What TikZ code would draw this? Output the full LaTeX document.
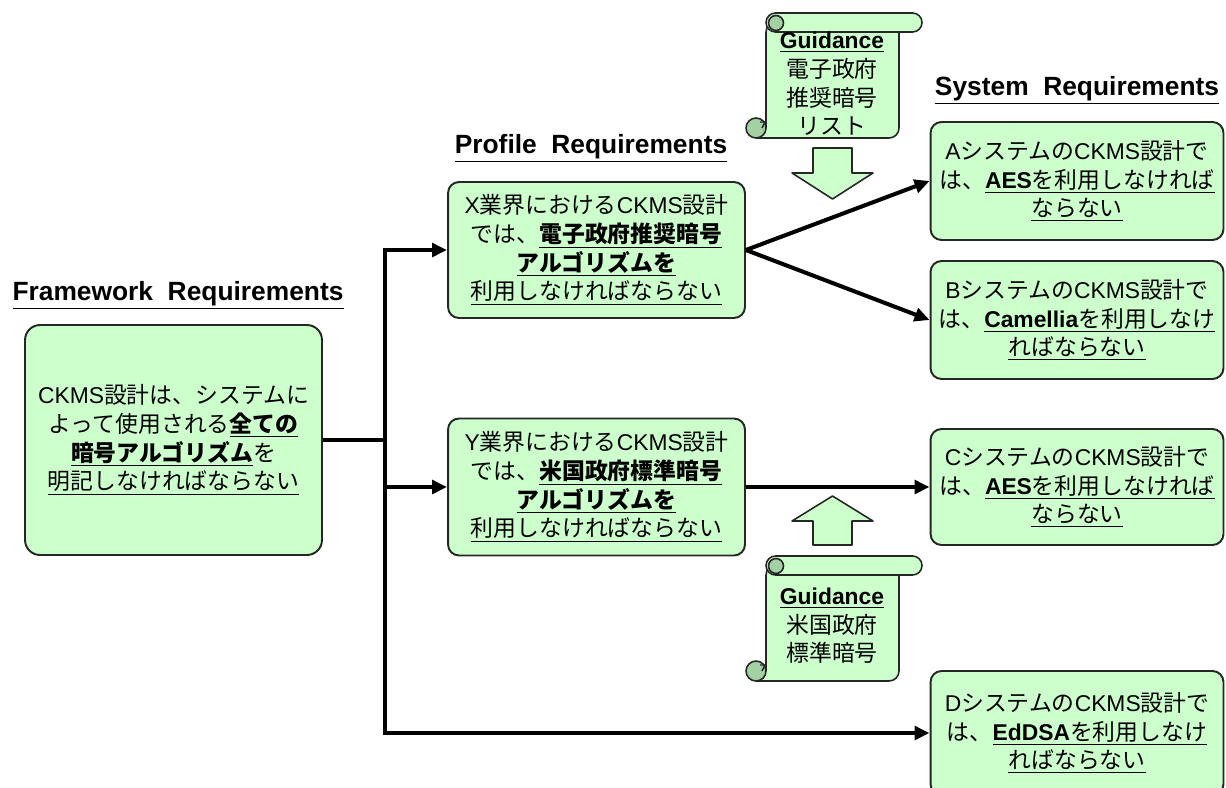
\documentclass[tikz,border=0pt]{standalone}
\usepackage{fontspec}
\setmainfont{Liberation Sans}
\newfontfamily\cjk{Noto Sans CJK JP}
\newfontfamily\headfont{Liberation Sans}
% switch to the CJK family on Japanese characters
\newXeTeXintercharclass\jpclass
\newcount\jpcode
\newcommand\setjprange[2]{%
  \jpcode=#1
  \loop \XeTeXcharclass\jpcode=\jpclass \advance\jpcode by 1 \ifnum\jpcode<#2 \repeat}
\setjprange{"3000}{"3100}
\setjprange{"4E00}{"A000}
\setjprange{"FF00}{"FFF0}
\XeTeXinterchartokenstate=1
\XeTeXinterchartoks 0 \jpclass = {\cjk}
\XeTeXinterchartoks 4095 \jpclass = {\cjk}
\XeTeXinterchartoks \jpclass 0 = {\rmfamily}
\XeTeXinterchartoks 4095 0 = {\rmfamily}
\usepackage{tikz}
\usetikzlibrary{arrows.meta, positioning, calc}
\definecolor{boxGreen}{HTML}{CCFFCC}
\definecolor{curlGreen}{HTML}{A3D1A3}
\definecolor{edgeGray}{gray}{0.15}

\begin{document}
\begin{tikzpicture}[x=0.02cm, y=-0.02cm,
    reqbox/.style={draw=edgeGray, line width=1.1pt, fill=boxGreen, rounded corners=0.22cm,
        align=center, inner sep=0pt, minimum width=5.86cm, font=\fontsize{13}{16.3}\selectfont},
    guidetext/.style={align=center, inner sep=0pt, font=\fontsize{13}{16.3}\selectfont},
    heading/.style={font=\headfont\bfseries\fontsize{15}{18}\selectfont},
    flow/.style={line width=2.3pt, -{Triangle[length=0.3cm, width=0.27cm]}},
    paper/.style={draw=edgeGray, line width=0.9pt, fill=boxGreen, line join=round},
    ]
    \useasboundingbox (0,0) rectangle (1226,787);

    % headings
    \node[heading] (fwHead) at (178,295) {\underline{Framework\ \ Requirements}};
    \node[heading] (prHead) at (591,148) {\underline{Profile\ \ Requirements}};
    \node[heading] (syHead) at (1077,90) {\underline{System\ \ Requirements}};

    % requirement boxes
    \node[reqbox, minimum width=5.94cm, minimum height=4.6cm, rounded corners=0.3cm] (fw) at (173.5,440)
        {CKMS設計は、システムに\\よって使用される\underline{\textbf{全ての}}\\\underline{\textbf{暗号アルゴリズム}}を\\\underline{明記しなければならない}};
    \node[reqbox, minimum width=5.94cm, minimum height=2.72cm] (profX) at (596.5,250)
        {X業界におけるCKMS設計\\では、\underline{\textbf{電子政府推奨暗号}}\\\underline{\textbf{アルゴリズムを}}\\\underline{利用しなければならない}};
    \node[reqbox, minimum width=5.94cm, minimum height=2.74cm] (profY) at (596.5,487)
        {Y業界におけるCKMS設計\\では、\underline{\textbf{米国政府標準暗号}}\\\underline{\textbf{アルゴリズムを}}\\\underline{利用しなければならない}};
    \node[reqbox, minimum height=2.36cm] (sysA) at (1077,181)
        {AシステムのCKMS設計で\\は、\underline{\textbf{AES}を利用しなければ}\\\underline{ならない}};
    \node[reqbox, minimum height=2.36cm] (sysB) at (1077,320)
        {BシステムのCKMS設計で\\は、\underline{\textbf{Camellia}を利用しなけ}\\\underline{ればならない}};
    \node[reqbox, minimum height=2.32cm] (sysC) at (1077,487)
        {CシステムのCKMS設計で\\は、\underline{\textbf{AES}を利用しなければ}\\\underline{ならない}};
    \node[reqbox, minimum height=2.48cm] (sysD) at (1077,733)
        {DシステムのCKMS設計で\\は、\underline{\textbf{EdDSA}を利用しなけ}\\\underline{ればならない}};

    % connectors
    \coordinate (split) at (385,440);
    \draw[line width=2.3pt] (fw.east) -- (split);
    \draw[flow] ($(split)+(0,1)$) |- (profX.west);
    \draw[flow] (split) |- (profY.west);
    \draw[flow] ($(split)+(0,-1)$) |- (sysD.west);
    \draw[flow] (profX.east) -- (sysA.west);
    \draw[flow] (profX.east) -- (sysB.west);
    \draw[flow] (profY.east) -- (sysC.west);

    % guidance scrolls
    \foreach \dy in {0, 543} {
        \begin{scope}[shift={(0,\dy)}]
            \draw[paper, rounded corners=0.2cm] (756,138) -- (899,138) -- (899,22) -- (766,22) -- (766,128);
            \draw[paper, rounded corners=0.19cm] (766,13) rectangle (922,32);
            \draw[paper, fill=curlGreen] (776,23) circle (0.15cm);
            \draw[paper, fill=curlGreen] (756,128) circle (0.2cm);
            \draw[edgeGray, line width=0.8pt] (760,122) -- (765,122) -- (762,128);
        \end{scope}
    }
    \node[guidetext] (guideGov) at (832,84) {\underline{\textbf{Guidance}}\\電子政府\\推奨暗号\\リスト};
    \node[guidetext] (guideUS) at (832,626) {\underline{\textbf{Guidance}}\\米国政府\\標準暗号};

    % block arrows
    \draw[paper] (813,148) -- (852,148) -- (852,173) -- (873,173) -- (832.5,199) -- (792,173) -- (813,173) -- cycle;
    \draw[paper] (813,545) -- (852,545) -- (852,521) -- (873,521) -- (832.5,496) -- (792,521) -- (813,521) -- cycle;
\end{tikzpicture}
\end{document}
